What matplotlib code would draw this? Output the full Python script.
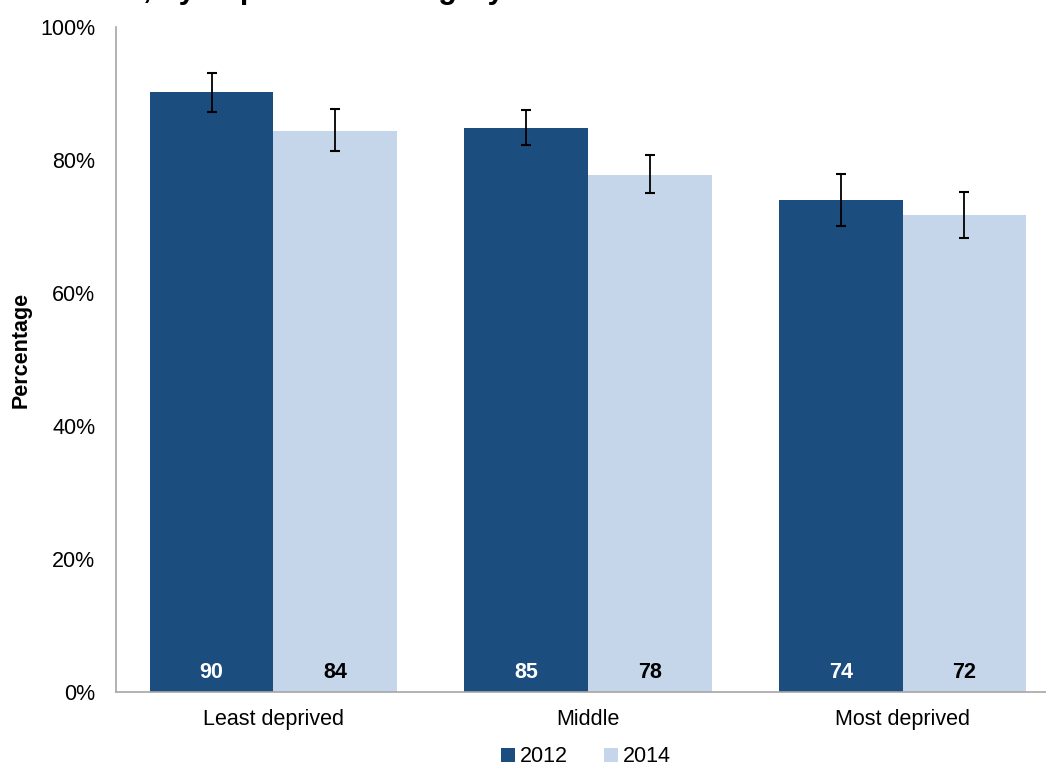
import matplotlib
matplotlib.use("Agg")
import matplotlib.pyplot as plt
import numpy as np
from matplotlib.ticker import FuncFormatter

plt.rcParams['font.family'] = ['Liberation Sans', 'DejaVu Sans']

categories = ["Least deprived", "Middle", "Most deprived"]
series_names = ["2012", "2014"]
values_2012 = [90.3, 84.8, 74.0]
values_2014 = [84.4, 77.8, 71.7]
err_low_2012 = [87.2, 82.3, 70.1]
err_high_2012 = [93.1, 87.5, 77.9]
err_low_2014 = [81.4, 75.0, 68.3]
err_high_2014 = [87.7, 80.8, 75.2]
labels_2012 = ["90", "85", "74"]
labels_2014 = ["84", "78", "72"]
yticks = [0, 20, 40, 60, 80, 100]

c2012 = "#1B4D7E"
c2014 = "#C6D6EA"

W, H = 1046, 767
fig = plt.figure(figsize=(W / 100, H / 100), dpi=100)
left_px, right_px, top_px, bot_px = 116, 1060, 27, 692
ax = fig.add_axes([left_px / W, 1 - bot_px / H, (right_px - left_px) / W, (bot_px - top_px) / H])

x = np.arange(len(categories))
bw = 0.393

def draw(vals, lo, hi, offset, color, labels, lcolor, name):
    vals = np.array(vals)
    yerr = np.array([vals - np.array(lo), np.array(hi) - vals])
    ax.bar(x + offset, vals, width=bw, color=color, label=name, zorder=2)
    ax.errorbar(x + offset, vals, yerr=yerr, fmt='none', ecolor='black',
                elinewidth=1.3, capsize=3.5, capthick=1.5, zorder=3)
    for xi, lab in zip(x + offset, labels):
        ax.text(xi, 3, lab, ha='center', va='center', fontsize=15.5,
                fontweight='bold', color=lcolor, zorder=4)

draw(values_2012, err_low_2012, err_high_2012, -bw / 2, c2012, labels_2012, 'white', series_names[0])
draw(values_2014, err_low_2014, err_high_2014, bw / 2, c2014, labels_2014, 'black', series_names[1])

ax.set_xlim(-0.5, 2.5)
ax.set_ylim(0, 100)
ax.set_yticks(yticks)
ax.yaxis.set_major_formatter(FuncFormatter(lambda v, p: f"{int(v)}%"))
ax.set_xticks(x)
ax.set_xticklabels(categories)
ax.tick_params(axis='both', length=0, labelsize=15.5)
ax.tick_params(axis='y', pad=15)
ax.tick_params(axis='x', pad=12)
for s in ['top', 'right']:
    ax.spines[s].set_visible(False)
for s in ['left', 'bottom']:
    ax.spines[s].set_color('#A6A6A6')
    ax.spines[s].set_linewidth(1.2)

fig.text(21 / W, 1 - 350 / H, "Percentage", rotation=90, ha='center', va='center',
         fontsize=15.5, fontweight='bold')

fig.text(143 / W, 1 + 2 / H, ", by deprivation category", ha='left', va='baseline',
         fontsize=22, fontweight='bold')

fig.legend(loc='center', bbox_to_anchor=(586 / W, 1 - 757 / H), ncol=2, frameon=False,
           fontsize=15.5, handlelength=0.65, handleheight=0.65, handletextpad=0.2,
           columnspacing=1.7)

fig.savefig("out.png", dpi=100)
